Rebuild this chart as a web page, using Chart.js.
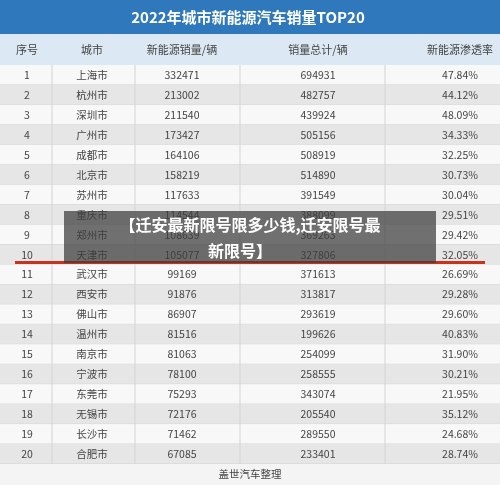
<!DOCTYPE html><html><head><meta charset="utf-8">
<script src="https://cdn.jsdelivr.net/npm/chart.js"></script>
<style>body{margin:0;background:#fff}</style></head><body>
<canvas id="c" width="500" height="485"></canvas>
<script>
const ranks=['1','2','3','4','5','6','7','8','9','10','11','12','13','14','15','16','17','18','19','20'];
const cities=['上海市','杭州市','深圳市','广州市','成都市','北京市','苏州市','重庆市','郑州市','天津市','武汉市','西安市','佛山市','温州市','南京市','宁波市','东莞市','无锡市','长沙市','合肥市'];
const nevSales=[332471,213002,211540,173427,164106,158219,117633,114544,108639,105077,99169,91876,86907,81516,81063,78100,75293,72176,71462,67085];
const totalSales=[694931,482757,439924,505156,508919,514890,391549,388099,369263,327806,371613,313817,293619,199626,254099,258555,343074,205540,289550,233401];
const penetration=['47.84%','44.12%','48.09%','34.33%','32.25%','30.73%','30.04%','29.51%','29.42%','32.05%','26.69%','29.28%','29.60%','40.83%','31.90%','30.21%','21.95%','35.12%','24.68%','28.74%'];
const headers=['序号','城市','新能源销量/辆','销量总计/辆','新能源渗透率'];
const colX=[27,92,182,318,460];
const F='"Noto Sans CJK SC","Noto Sans",sans-serif';
const tablePlugin={id:'tbl',beforeDatasetsDraw(ch){
 const c=ch.ctx,y=ch.scales.y,W=500;c.save();
 c.fillStyle='#2f78bb';c.fillRect(0,0,W,34);
 c.fillStyle='#fff';c.font='bold 15px '+F;c.textAlign='center';c.textBaseline='middle';
 c.fillText('2022年城市新能源汽车销量TOP20',248,17);
 c.fillStyle='#dce9f5';c.fillRect(0,34,W,31);
 c.fillStyle='#444';c.font='11px '+F;
 headers.forEach((h,i)=>c.fillText(h,colX[i],50));
 const h=y.getPixelForValue(1)-y.getPixelForValue(0);
 ranks.forEach((r,i)=>{const py=y.getPixelForValue(i);
  c.fillStyle=i%2?'#e6e6e6':'#f8f8f8';c.fillRect(0,py-h/2,W,h);
  c.strokeStyle='#d4d4d4';c.beginPath();c.moveTo(0,py+h/2);c.lineTo(W,py+h/2);c.stroke();
  c.fillStyle='#444';c.font='10.5px '+F;
  [r,cities[i],String(nevSales[i]),String(totalSales[i]),penetration[i]].forEach((t,k)=>c.fillText(t,colX[k],py));
 });
 c.strokeStyle='#d4d4d4';[52,135,240,385].forEach(x=>{c.beginPath();c.moveTo(x,65);c.lineTo(x,ch.chartArea.bottom);c.stroke();});
 c.fillStyle='#f4f4f4';c.fillRect(0,ch.chartArea.bottom,W,30);
 c.fillStyle='#444';c.font='10.5px '+F;c.fillText('盖世汽车整理',250,474);
 c.fillStyle='#c8321e';c.fillRect(15,261,470,3);
 c.fillStyle='rgba(60,60,60,0.72)';c.fillRect(64,211,372,52);
 c.fillStyle='#fff';c.font='bold 16px '+F;
 c.fillText('【迁安最新限号限多少钱,迁安限号最',250,225);c.fillText('新限号】',240,251);
 c.restore();}};
new Chart(document.getElementById('c'),{type:'bar',
 data:{labels:ranks,datasets:[{data:nevSales,backgroundColor:'rgba(0,0,0,0)'}]},
 options:{indexAxis:'y',responsive:false,animation:false,events:[],
  layout:{padding:{top:65,bottom:21,left:0,right:0}},
  plugins:{legend:{display:false},tooltip:{enabled:false}},
  scales:{y:{display:false},x:{display:false,min:0,max:400000}}},
 plugins:[tablePlugin]});
</script></body></html>
